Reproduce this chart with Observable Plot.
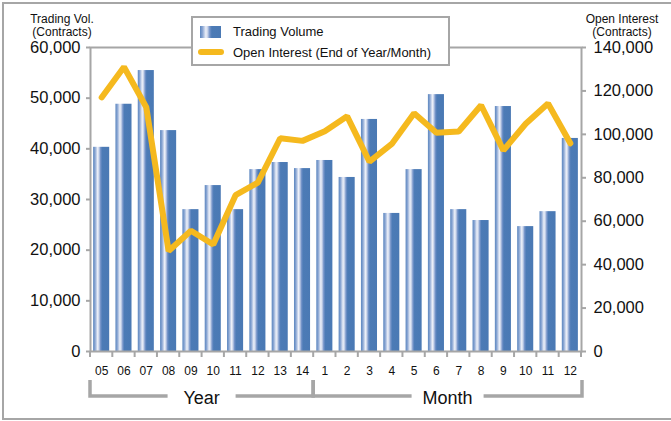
<!DOCTYPE html>
<html><head><meta charset="utf-8">
<script src="https://cdn.jsdelivr.net/npm/d3@7"></script>
<script src="https://cdn.jsdelivr.net/npm/@observablehq/plot@0.6"></script>
<style>body{margin:0;background:#fff} svg{display:block}</style>
</head><body><div id="chart"></div>
<script>
const yearLabels = ["05","06","07","08","09","10","11","12","13","14"];
const monthLabels = ["1","2","3","4","5","6","7","8","9","10","11","12"];
const volume = [40300, 48800, 55450, 43600, 28000, 32750, 28000, 35900, 37300, 36100,
                37700, 34350, 45800, 27250, 35900, 50700, 28000, 25850, 48350, 24650, 27600, 42050];
const openInterest = [117000, 131000, 112500, 46300, 55600, 49300, 72000, 77800, 98200, 97000,
                      101400, 108300, 87400, 95600, 109700, 100700, 101300, 113400, 92600, 104900, 114200, 95900];
const leftTicks = [0, 10000, 20000, 30000, 40000, 50000, 60000];
const rightTicks = [0, 20000, 40000, 60000, 80000, 100000, 120000, 140000];
const groupNames = ["Year", "Month"];
const legendLabels = ["Trading Volume", "Open Interest (End of Year/Month)"];

const keys = [...yearLabels.map(d => "Y" + d), ...monthLabels.map(d => "M" + d)];
const data = keys.map((k, i) => ({key: k, volume: volume[i], oi: openInterest[i]}));
const K = 60000 / 140000;
const font = "'Liberation Sans', Arial, sans-serif";
const axisGray = "#a6a6a6";
const lineColor = "#f5b91e";
const fmt = d3.format(",");

const plot = Plot.plot({
  width: 671, height: 421,
  marginLeft: 90, marginRight: 90, marginTop: 47, marginBottom: 70,
  style: {fontFamily: font, background: "white", overflow: "visible", color: "#111"},
  x: {type: "band", domain: keys, paddingInner: 0.28, paddingOuter: 0.14, round: false},
  y: {domain: [0, 60000]},
  marks: [
    Plot.barY(data, {x: "key", y: "volume", fill: "url(#barGrad)"}),
    Plot.frame({stroke: axisGray, strokeWidth: 2}),
    Plot.axisY(leftTicks, {anchor: "left", label: null, tickSize: 4, tickPadding: 6, stroke: axisGray, strokeWidth: 2, fontSize: 16.5, tickFormat: fmt}),
    Plot.axisY(rightTicks.map(v => v * K), {anchor: "right", label: null, tickSize: 4, tickPadding: 8, stroke: axisGray, strokeWidth: 2, fontSize: 16.5, tickFormat: d => fmt(Math.round(d / K))}),
    Plot.axisX({label: null, tickSize: 0, tickPadding: 15, fontSize: 12, tickFormat: d => d.slice(1)}),
    Plot.line(data, {x: "key", y: d => d.oi * K, stroke: lineColor, strokeWidth: 6, strokeLinejoin: "miter", strokeLinecap: "round"})
  ]
});

const svg = d3.select(plot);
const defs = svg.insert("defs", ":first-child");
const g = defs.append("linearGradient").attr("id", "barGrad").attr("x1", 0).attr("x2", 1).attr("y1", 0).attr("y2", 0);
[[0, "#5b86bf"], [0.12, "#8aa6d3"], [0.28, "#eef1f9"], [0.36, "#c9d4ea"], [0.46, "#7594c9"], [0.56, "#4c7bb6"], [1, "#4a79b4"]]
  .forEach(([o, c]) => g.append("stop").attr("offset", o).attr("stop-color", c));

// outer border
svg.append("rect").attr("x", 3).attr("y", 3).attr("width", 700).attr("height", 416)
  .attr("fill", "none").attr("stroke", axisGray).attr("stroke-width", 2);

const xs = plot.scale("x");
const step = xs.step, bw = xs.bandwidth;
const bounds = keys.map(k => xs.apply(k) - (step - bw) / 2);
bounds.push(bounds[bounds.length - 1] + step);
const y0 = 351;
const deco = svg.append("g").attr("text-anchor", "start");
bounds.forEach(x => deco.append("line").attr("x1", x).attr("x2", x).attr("y1", y0).attr("y2", y0 + 6)
  .attr("stroke", axisGray).attr("stroke-width", 2));

// group brackets
const by = 396, bTop = 380;
const groups = [[bounds[0], bounds[10]], [bounds[10], bounds[22] + 1]];
groups.forEach(([a, b], i) => {
  const mid = (a + b) / 2;
  const half = i === 0 ? 34 : 36;
  deco.append("path").attr("d", `M${a},${bTop}V${by}H${mid - half}M${mid + half},${by}H${b}V${bTop}`)
    .attr("fill", "none").attr("stroke", axisGray).attr("stroke-width", 3.5);
  deco.append("text").attr("x", mid).attr("y", by + 8).attr("text-anchor", "middle")
    .attr("font-size", 18).attr("fill", "#111").text(groupNames[i]);
});

// axis titles
const titles = [[62, ["Trading Vol.", "(Contracts)"]], [622, ["Open Interest", "(Contracts)"]]];
titles.forEach(([x, lines]) => lines.forEach((t, j) =>
  deco.append("text").attr("x", x).attr("y", 23 + j * 12.5).attr("text-anchor", "middle")
    .attr("font-size", 12).attr("fill", "#111").text(t)));

// legend
const lg = svg.append("g").attr("text-anchor", "start");
lg.append("rect").attr("x", 192).attr("y", 17).attr("width", 257).attr("height", 48)
  .attr("fill", "white").attr("stroke", axisGray).attr("stroke-width", 2);
lg.append("rect").attr("x", 200).attr("y", 26).attr("width", 21).attr("height", 12).attr("fill", "url(#barGrad)");
lg.append("line").attr("x1", 201).attr("x2", 221).attr("y1", 52).attr("y2", 52)
  .attr("stroke", lineColor).attr("stroke-width", 6).attr("stroke-linecap", "round");
legendLabels.forEach((t, i) => lg.append("text").attr("x", 233).attr("y", 36 + i * 20.5)
  .attr("text-anchor", "start").attr("font-size", 13).attr("fill", "#111").text(t));

document.getElementById("chart").append(plot);
</script>
</body></html>
